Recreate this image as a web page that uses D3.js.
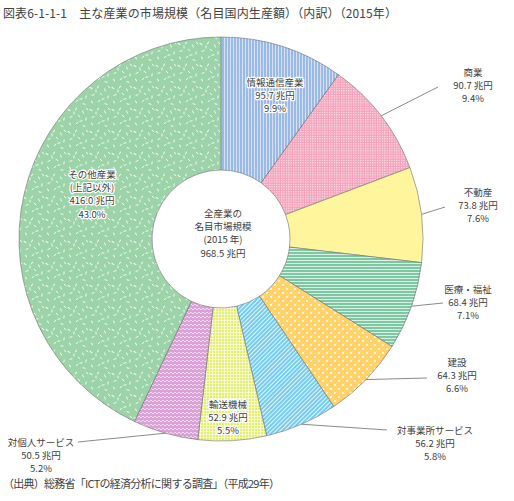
<!DOCTYPE html>
<html><head><meta charset="utf-8">
<script src="https://cdn.jsdelivr.net/npm/d3@7"></script>
<style>
body{margin:0;background:#fff;}
text{font-family:"Noto Sans CJK JP","Noto Sans",sans-serif;fill:#404040;}
</style></head>
<body><svg id="c" width="514" height="501"></svg>
<script>
const categories = ["情報通信産業","商業","不動産","医療・福祉","建設","対事業所サービス","輸送機械","対個人サービス","その他産業"];
const values = [95.7, 90.7, 73.8, 68.4, 64.3, 56.2, 52.9, 50.5, 416.0];
const shares = ["9.9%","9.4%","7.6%","7.1%","6.6%","5.8%","5.5%","5.2%","43.0%"];
const total = 968.5;
const titleText = "図表6-1-1-1\u3000主な産業の市場規模（名目国内生産額）（内訳）（2015年）";
const sourceText = "（出典）総務省「ICTの経済分析に関する調査」（平成29年）";
const centerLines = ["全産業の","名目市場規模","(2015 年)", total.toFixed(1) + " 兆円"];

const svg = d3.select("#c");
const defs = svg.append("defs");
function pat(id, w, h, base, rot){
  const p = defs.append("pattern").attr("id", id).attr("patternUnits","userSpaceOnUse").attr("width", w).attr("height", h);
  if (rot) p.attr("patternTransform", "rotate(" + rot + ")");
  p.append("rect").attr("width", w).attr("height", h).attr("fill", base);
  return p;
}
pat("p0",3,3,"#9ab9e6").append("rect").attr("width",1).attr("height",3).attr("fill","#d6e3f6");
{const p = pat("p1",2.4,2.4,"#f3a2ba"); p.append("rect").attr("width",1.2).attr("height",1.2).attr("fill","#fde4ec");}
pat("p2",4,4,"#fff59c");
pat("p3",3,3,"#7dc7a3").append("rect").attr("width",3).attr("height",1).attr("fill","#d9f0e4");
{const p = pat("p4",8,8,"#ffd26c");
 p.append("circle").attr("cx",2).attr("cy",2).attr("r",1).attr("fill","#fff");
 p.append("circle").attr("cx",6).attr("cy",6).attr("r",1).attr("fill","#fff");}
pat("p5",3,3,"#74ccf2",45).append("rect").attr("width",1).attr("height",3).attr("fill","#e4f6fd");
{const p = pat("p6",3,3,"#e3ee6e");
 p.append("rect").attr("width",3).attr("height",0.8).attr("fill","#fafde0");
 p.append("rect").attr("width",0.8).attr("height",3).attr("fill","#fafde0");}
{const p = pat("p7",4,4,"#d8a2d6");
 p.append("path").attr("d","M0,3 L2,1 L4,3").attr("fill","none").attr("stroke","#f6e6f5").attr("stroke-width",0.8);}
{const p = pat("p8",22,22,"#9dd3a8");
 const dashes = [[2,3,30],[9,2,-60],[16,5,70],[4,10,-20],[12,9,40],[19,12,-80],[3,17,60],[10,16,-40],[17,19,15],[7,6,85],[14,14,-10],[20,2,50]];
 dashes.forEach(d => p.append("line").attr("x1",-1.5).attr("x2",1.5).attr("y1",0).attr("y2",0)
   .attr("transform","translate("+d[0]+","+d[1]+") rotate("+d[2]+")")
   .attr("stroke","#f4fbf5").attr("stroke-width",0.9));}

const cx = 221, cy = 239, R = 202, r = 69;
const g = svg.append("g").attr("transform", "translate("+cx+","+cy+")");
const pie = d3.pie().sort(null).value(d => d);
const arcs = pie(values);
const arc = d3.arc().innerRadius(r).outerRadius(R);
g.selectAll("path.s").data(arcs).enter().append("path").attr("class","s")
  .attr("d", arc).attr("fill", (d,i) => "url(#p"+i+")")
  .attr("stroke", "#6e6e6e").attr("stroke-width", 0.6);

svg.append("text").attr("x",3).attr("y",18).attr("font-size",12).attr("textLength",394).text(titleText);
svg.append("text").attr("x",3).attr("y",488).attr("font-size",11).attr("textLength",277).text(sourceText);

const fs = 9.5, lineH = 13.2;
function block(parent, lines, x, y, halo){
  const t = parent.append("text").attr("x",x).attr("y",y).attr("text-anchor","middle").attr("font-size",fs);
  if (halo) t.attr("stroke","#fff").attr("stroke-width",2.5).attr("paint-order","stroke").attr("stroke-linejoin","round");
  lines.forEach((s,k) => t.append("tspan").attr("x",x).attr("dy", k ? lineH : 0).text(s));
  return t;
}
block(g, centerLines, 2, -22, false);

function labelLines(i){ return [categories[i], values[i].toFixed(1) + " 兆円", shares[i]]; }
block(svg, labelLines(0), 275, 86, true);
block(svg, labelLines(6), 228, 408, true);
block(svg, [categories[8], "(上記以外)", values[8].toFixed(1) + " 兆円", shares[8]], 92, 178, true);

const outside = [[1,438,87,473,76],[2,445,207,478,196],[3,443,303,468,293],[4,427,378,457,366],[5,387,430,435,434],[7,78,442,41,446]];
outside.forEach(([i,ex,ey,tx,ty]) => {
  const a = (arcs[i].startAngle + arcs[i].endAngle)/2;
  const sx = cx + Math.sin(a)*R, sy = cy - Math.cos(a)*R;
  svg.append("line").attr("x1",sx).attr("y1",sy).attr("x2",ex).attr("y2",ey)
    .attr("stroke","#8a8a8a").attr("stroke-width",1);
  block(svg, labelLines(i), tx, ty, false);
});
</script></body></html>
